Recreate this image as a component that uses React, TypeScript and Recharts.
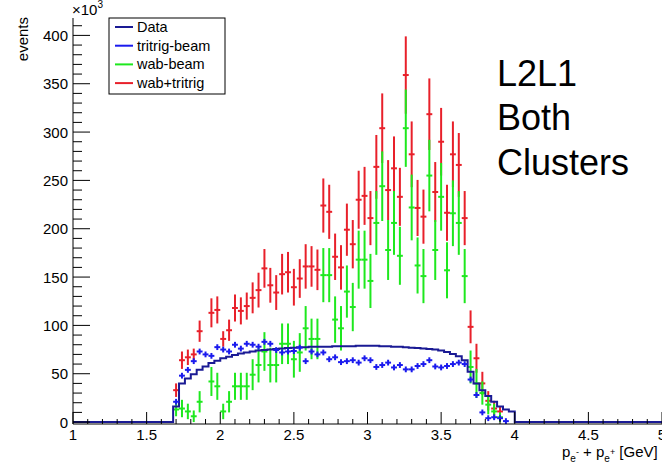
import React from 'react';
import { ComposedChart, Line, Scatter, ErrorBar, XAxis, YAxis } from 'recharts';

// bins are 0.04 GeV wide, first filled bin is centred on 1.70
const FIRST_BIN = 1.7;
const BIN_WIDTH = 0.04;

// Data (navy step histogram), x10^3 events
const dataHist = [16, 40, 45, 49.5, 54, 57.5, 61, 63.5, 66, 67.5, 69.5, 71, 72, 73, 74, 74.5, 75, 75.5, 76, 76.5,
  77, 77.5, 77.5, 78, 78, 78, 78, 78.5, 78.5, 78.5, 78.5, 79, 79, 79, 79, 78.5, 78.5, 78, 78, 77.5,
  77, 76.5, 76, 75.5, 75, 74, 72.5, 70.5, 68, 64, 52, 40, 33, 27, 21, 16, 13, 11];

// tritrig-beam (blue crosses)
const tritrigBeam = [21, 48, 54, 63, 73, 70, 68.5, 77.5, 75, 73, 80, 76, 81, 80, 78, 83, 81, 74.5, 72, 73,
  73.5, 77, 63, 73, 70, 72, 65, 67, 62, 63, 64, 61.5, 66, 64, 57, 59, 61.5, 56.5, 59, 54.5,
  54.5, 58, 60, 64, 57.5, 56.5, 58, 60, 61.5, 60, 44, 28, 10, 4, 5, 4, 1, null];
const tritrigErr = 3;

// wab+tritrig (red)
const wabTritrig = [33, 64, 67, 70, 94, null, 113, 116, 86, 95, 118, 115, 120, 128.5, 136.5, 159, 141.5, 134, 153, 155,
  139.5, 148.5, 161, 161, 157.5, 224, 217.5, 171, 160, 199, 184, 230, 234, 211, 264, 304, 240, 262.5, 233, 359,
  277, 221.5, 212.5, 318.5, 238, 290, 216.5, 277, 266, 211, 98.5, 66, 40, 22, 14, 11, null, null];

// wab-beam (green)
const wabBeam = [13, 14, 11, 6, 21, null, 42, 37, 11, 21, 37, 37, 37, 49, 59, 73, 59, 59, 81, 81,
  65, 72, 97, 86, 86, 152, 152, 106, 97, 135, 119, 168, 168, 146, 206, 244, 178, 206, 172, 304,
  222, 162, 151, 255, 178, 233, 157, 216, 206, 151, 57, 40, 30, 18, 11, 5, null, null];

// statistical error, same for red and green (wab dominated)
const wabErr = [7, 9, 8, 6, 11, null, 15, 14, 8, 11, 14, 14, 14, 16, 18, 20, 18, 18, 21, 21,
  19, 20, 23, 21, 21, 28, 28, 24, 23, 27, 25, 30, 30, 28, 33, 36, 31, 33, 30, 40,
  34, 29, 28, 37, 31, 35, 29, 34, 33, 28, 17, 15, 12, 10, 8, 5, null, null];

const X_MAJOR = [1, 1.5, 2, 2.5, 3, 3.5, 4, 4.5, 5];
const Y_MAJOR = [0, 50, 100, 150, 200, 250, 300, 350, 400];

const NAVY = '#1a1a94';
const BLUE = '#1a1aee';
const GREEN = '#1ee81e';
const RED = '#e8202a';

const legendItems = [
  { name: 'Data', color: NAVY },
  { name: 'tritrig-beam', color: BLUE },
  { name: 'wab-beam', color: GREEN },
  { name: 'wab+tritrig', color: RED },
];

const binCenter = (i: number) => +(FIRST_BIN + i * BIN_WIDTH).toFixed(2);

// full 1..5 range, empty bins are 0
const histTable: { x: number; y: number }[] = [{ x: 1, y: 0 }];
for (let k = 0; k < 100; k++) {
  const x = +(1.02 + k * BIN_WIDTH).toFixed(2);
  const idx = Math.round((x - FIRST_BIN) / BIN_WIDTH);
  histTable.push({ x, y: idx >= 0 && idx < dataHist.length ? dataHist[idx] : 0 });
}
histTable.push({ x: 5, y: 0 });

const toPoints = (vals: (number | null)[], errs: (number | null)[] | number) =>
  vals
    .map((v, i) => {
      const e = typeof errs === 'number' ? errs : errs[i];
      return v == null ? null : { x: binCenter(i), y: v, ex: BIN_WIDTH / 2, ey: e };
    })
    .filter(Boolean);

const redPts = toPoints(wabTritrig, wabErr);
const greenPts = toPoints(wabBeam, wabErr);
const bluePts = toPoints(tritrigBeam, tritrigErr);

const xTicks: number[] = [];
for (let k = 0; k <= 40; k++) xTicks.push(+(1 + k * 0.1).toFixed(1));
const yTicks: number[] = [];
for (let k = 0; k <= 41; k++) yTicks.push(k * 10);

const XTick = (props: any) => {
  const { x, y, payload } = props;
  const major = X_MAJOR.includes(payload.value);
  return (
    <g>
      <line x1={x} x2={x} y1={y} y2={y - (major ? 12 : 5)} stroke="#000" strokeWidth={1} />
      {major && (
        <text x={x} y={y + 16} textAnchor="middle" fontSize={15} fill="#000">
          {payload.value}
        </text>
      )}
    </g>
  );
};

const YTick = (props: any) => {
  const { x, y, payload } = props;
  const major = Y_MAJOR.includes(payload.value);
  return (
    <g>
      <line x1={x} x2={x + (major ? 17 : 9)} y1={y} y2={y} stroke="#000" strokeWidth={1} />
      {major && (
        <text x={x - 5} y={y + 5.5} textAnchor="end" fontSize={15} fill="#000">
          {payload.value}
        </text>
      )}
    </g>
  );
};

const NoMarker = () => <g />;

export default function App() {
  return (
    <div style={{ position: 'absolute', left: 0, top: 0, width: 662, height: 464, background: '#fff', fontFamily: '"Liberation Sans", Arial, sans-serif' }}>
      <ComposedChart width={662} height={464} data={histTable} margin={{ top: 18, right: 0, bottom: 0, left: 0 }}>
        <XAxis
          dataKey="x"
          type="number"
          domain={[1, 5]}
          ticks={xTicks}
          interval={0}
          height={40}
          tickSize={0}
          tickMargin={0}
          tickLine={false}
          tick={XTick}
          axisLine={{ stroke: '#000' }}
        />
        <YAxis
          type="number"
          domain={[0, 418]}
          ticks={yTicks}
          interval={0}
          width={73}
          tickSize={0}
          tickMargin={0}
          tickLine={false}
          tick={YTick}
          axisLine={{ stroke: '#000' }}
        />
        <Scatter data={redPts} dataKey="y" fill={RED} shape={NoMarker} isAnimationActive={false}>
          <ErrorBar dataKey="ey" direction="y" width={0} stroke={RED} strokeWidth={2} isAnimationActive={false} />
          <ErrorBar dataKey="ex" direction="x" width={0} stroke={RED} strokeWidth={2} isAnimationActive={false} />
        </Scatter>
        <Scatter data={greenPts} dataKey="y" fill={GREEN} shape={NoMarker} isAnimationActive={false}>
          <ErrorBar dataKey="ey" direction="y" width={0} stroke={GREEN} strokeWidth={2} isAnimationActive={false} />
          <ErrorBar dataKey="ex" direction="x" width={0} stroke={GREEN} strokeWidth={2} isAnimationActive={false} />
        </Scatter>
        <Line dataKey="y" type="step" stroke={NAVY} strokeWidth={2} dot={false} activeDot={false} isAnimationActive={false} />
        <Scatter data={bluePts} dataKey="y" fill={BLUE} shape={NoMarker} isAnimationActive={false}>
          <ErrorBar dataKey="ey" direction="y" width={0} stroke={BLUE} strokeWidth={2} isAnimationActive={false} />
          <ErrorBar dataKey="ex" direction="x" width={0} stroke={BLUE} strokeWidth={2} isAnimationActive={false} />
        </Scatter>
      </ComposedChart>

      <svg width={662} height={464} style={{ position: 'absolute', left: 0, top: 0, pointerEvents: 'none' }}>
        <text x={72} y={15} fontSize={15} fill="#000">
          ×10<tspan fontSize={10} dy={-7}>3</tspan>
        </text>
        <text transform="translate(27.5,17) rotate(-90)" textAnchor="end" fontSize={15} fill="#000">
          events
        </text>

        <rect x={109} y={18} width={116} height={76} fill="#fff" stroke="#000" strokeWidth={1} />
        {legendItems.map((it, i) => {
          const cy = 27 + i * 18.7;
          return (
            <g key={it.name}>
              <line x1={115} x2={133} y1={cy} y2={cy} stroke={it.color} strokeWidth={2} />
              <text x={137} y={cy + 5} fontSize={14.5} fill="#000">{it.name}</text>
            </g>
          );
        })}

        <text fontSize={36} fill="#000">
          <tspan x={497} y={86}>L2L1</tspan>
          <tspan x={497} y={130}>Both</tspan>
          <tspan x={497} y={175}>Clusters</tspan>
        </text>

        <text x={562} y={457} fontSize={15} fill="#000">
          p<tspan fontSize={10} dy={5}>e</tspan><tspan fontSize={9} dy={-7}>-</tspan>
          <tspan fontSize={15} dy={2}> + p</tspan><tspan fontSize={10} dy={5}>e</tspan><tspan fontSize={9} dy={-7}>+</tspan>
          <tspan fontSize={15} dy={2}> [GeV]</tspan>
        </text>
      </svg>
    </div>
  );
}
